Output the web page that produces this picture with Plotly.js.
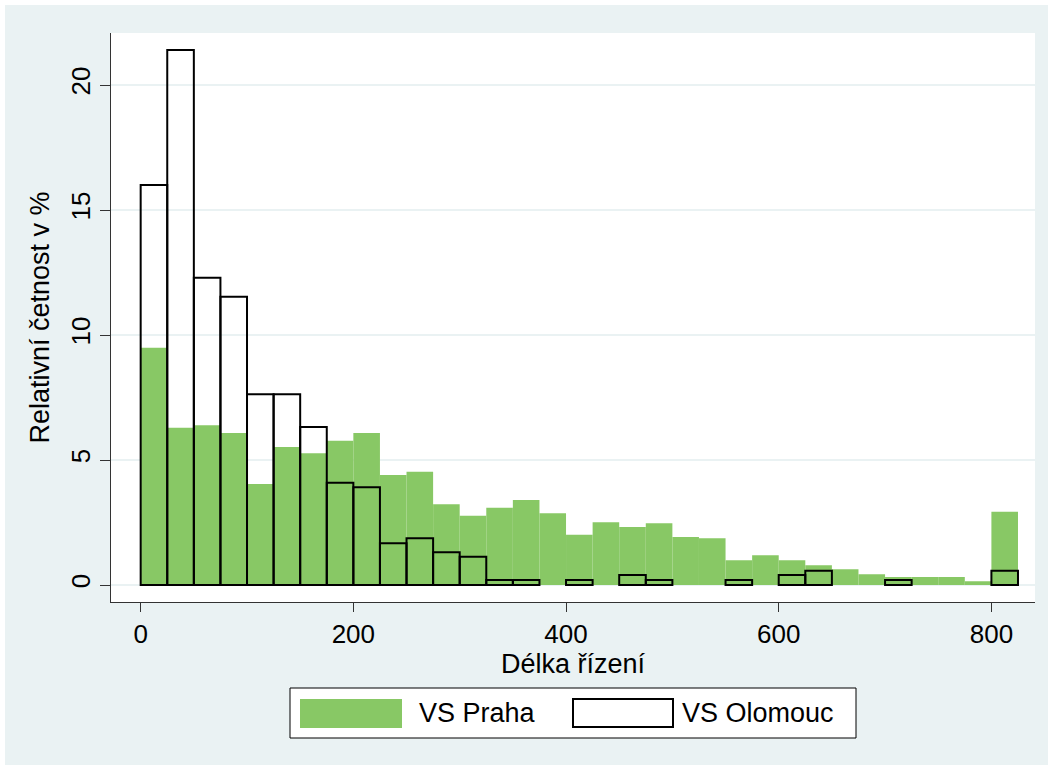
<!DOCTYPE html>
<html>
<head>
<meta charset="utf-8">
<script src="https://cdn.plot.ly/plotly-3.0.1.min.js"></script>
<style>
html,body{margin:0;padding:0;background:#ffffff;}
#chart{position:absolute;left:5px;top:5px;width:1043px;height:760px;}
</style>
</head>
<body>
<div id="chart"></div>
<script>
// Bin left edges (width 25)
const binStart = [0,25,50,75,100,125,150,175,200,225,250,275,300,325,350,375,400,425,450,475,500,525,550,575,600,625,650,675,700,725,750,775,800];
const binWidth = 25;
// Relative frequency (%) - VS Praha
const praha = [9.49,6.29,6.39,6.08,4.04,5.52,5.27,5.77,6.08,4.40,4.53,3.23,2.77,3.09,3.40,2.87,2.01,2.51,2.32,2.47,1.92,1.87,0.99,1.19,0.99,0.79,0.63,0.43,0.32,0.32,0.32,0.15,2.93];
// Relative frequency (%) - VS Olomouc
const olomouc = [16.0,21.4,12.29,11.53,7.63,7.63,6.32,4.09,3.91,1.67,1.87,1.31,1.13,0.2,0.2,null,0.2,null,0.4,0.2,null,null,0.2,null,0.4,0.57,null,null,0.2,null,null,null,0.57];
const seriesNames = ["VS Praha","VS Olomouc"];
const xTicks = [0,200,400,600,800];
const yTicks = [0,5,10,15,20];

const green = "#88C865";
const bg = "#EAF2F3";
const font = "Liberation Sans, Arial, sans-serif";

// plot area in absolute page px (for legend placement)
const PL=111, PR=1035, PT=33, PB=602;
const px = x => (x-PL)/(PR-PL);
const py = y => (PB-y)/(PB-PT);

const traces = [
  {type:"bar", name:seriesNames[0], x:binStart, y:praha, width:binWidth, offset:0,
   marker:{color:green, line:{width:0}}, showlegend:false, hoverinfo:"x+y"},
  {type:"bar", name:seriesNames[1], x:binStart, y:olomouc, width:binWidth, offset:0,
   marker:{color:"rgba(0,0,0,0)", line:{width:2, color:"#000000"}}, showlegend:false, hoverinfo:"x+y"}
];

const layout = {
  width:1043, height:760,
  paper_bgcolor:bg, plot_bgcolor:"#ffffff",
  margin:{l:PL-5, r:1048-PR, t:PT-5, b:765-PB, pad:0},
  barmode:"overlay",
  font:{family:font, size:26, color:"#000000"},
  xaxis:{range:[-27.9,841], tickvals:xTicks, ticktext:xTicks.map(String), ticks:"outside", ticklen:9, tickwidth:1, tickcolor:"#333",
         showline:true, linecolor:"#333", linewidth:1, showgrid:false, zeroline:false,
         tickfont:{size:26, family:font}, automargin:false,
         title:{text:"Délka řízení", font:{size:27, family:font}, standoff:0}},
  yaxis:{range:[-0.68,22.08], tickvals:yTicks, ticktext:yTicks.map(String), ticks:"outside", ticklen:10, tickwidth:1, tickcolor:"#333",
         tickangle:-90, showline:true, linecolor:"#333", linewidth:1, showgrid:true, gridcolor:bg, gridwidth:2, zeroline:false,
         tickfont:{size:26, family:font}, automargin:false,
         title:{text:"Relativní četnost v %", font:{size:27, family:font}, standoff:8}},
  shapes:[
    {type:"rect", xref:"paper", yref:"paper", x0:px(290), x1:px(856), y0:py(738), y1:py(688), line:{color:"#000", width:1}, fillcolor:"#ffffff"},
    {type:"rect", xref:"paper", yref:"paper", x0:px(300), x1:px(402), y0:py(728), y1:py(699), line:{width:0}, fillcolor:green},
    {type:"rect", xref:"paper", yref:"paper", x0:px(573), x1:px(673), y0:py(727), y1:py(699), line:{color:"#000", width:2}, fillcolor:"#ffffff"}
  ],
  annotations:[
    {xref:"paper", yref:"paper", x:px(417), y:py(713), text:seriesNames[0], showarrow:false, xanchor:"left", yanchor:"middle", font:{size:27, family:font}},
    {xref:"paper", yref:"paper", x:px(680), y:py(713), text:seriesNames[1], showarrow:false, xanchor:"left", yanchor:"middle", font:{size:27, family:font}}
  ]
};

Plotly.newPlot("chart", traces, layout, {staticPlot:true, displayModeBar:false});
</script>
</body>
</html>
